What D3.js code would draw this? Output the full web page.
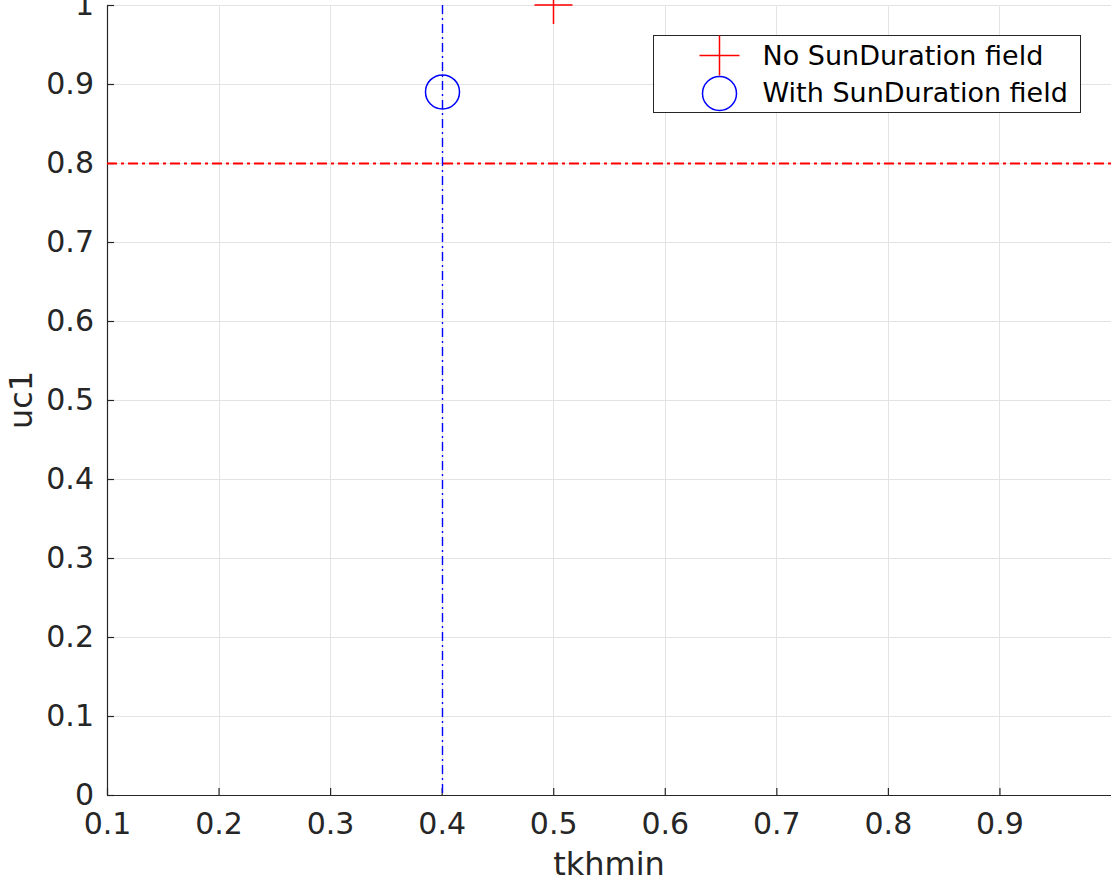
<!DOCTYPE html>
<html>
<head>
<meta charset="utf-8">
<script src="https://cdn.jsdelivr.net/npm/d3@7"></script>
<style>
  body { margin: 0; background: #fff; }
  svg { display: block; font-family: "DejaVu Sans", sans-serif; }
</style>
</head>
<body>
<div id="chart"></div>
<script>
// data
var xTicks = [0.1, 0.2, 0.3, 0.4, 0.5, 0.6, 0.7, 0.8, 0.9];
var yTicks = [0, 0.1, 0.2, 0.3, 0.4, 0.5, 0.6, 0.7, 0.8, 0.9, 1];
var noSunX = [0.5];
var noSunY = [1.0];
var withSunX = [0.4];
var withSunY = [0.89];
var refX = 0.4;   // blue vertical dash-dot
var refY = 0.8;   // red horizontal dash-dot
var seriesNames = ["No SunDuration field", "With SunDuration field"];

var W = 1111, H = 882;
var margin = {top: 5, right: 0, bottom: 87, left: 107};
var width = W - margin.left - margin.right;
var height = H - margin.top - margin.bottom;

var svg = d3.select("#chart").append("svg")
  .attr("width", W).attr("height", H);

var g = svg.append("g")
  .attr("transform", "translate(" + margin.left + "," + margin.top + ")");

var x = d3.scaleLinear().domain([0.1, 1.0]).range([0, width]);
var y = d3.scaleLinear().domain([0, 1]).range([height, 0]);
var px = v => Math.round(x(v)) + 0.5;
var py = v => Math.round(y(v)) + 0.5;

// grid
g.append("g").selectAll("line").data(xTicks.slice(1)).enter().append("line")
  .attr("x1", d => px(d)).attr("x2", d => px(d))
  .attr("y1", 0).attr("y2", height)
  .attr("stroke", "#e3e3e3").attr("stroke-width", 1);
g.append("g").selectAll("line").data(yTicks.slice(1)).enter().append("line")
  .attr("x1", 0).attr("x2", width)
  .attr("y1", d => py(d)).attr("y2", d => py(d))
  .attr("stroke", "#e3e3e3").attr("stroke-width", 1);

// axes, ticks pointing inward like matlab
var xAxis = g.append("g")
  .attr("transform", "translate(0," + height + ")")
  .call(d3.axisBottom(x).tickValues(xTicks).tickSizeInner(-7).tickSizeOuter(0)
    .tickFormat(d3.format("")));
var yAxis = g.append("g")
  .call(d3.axisLeft(y).tickValues(yTicks).tickSizeInner(-7).tickSizeOuter(0)
    .tickFormat(d3.format("")));

[xAxis, yAxis].forEach(a => {
  a.attr("font-size", null).attr("font-family", null);
  a.select(".domain").attr("stroke", "#262626").attr("stroke-width", 1.2);
  a.selectAll(".tick line").attr("stroke", "#262626").attr("stroke-width", 1.2);
  a.selectAll(".tick text").attr("fill", "#262626")
    .attr("font-size", 30).attr("font-family", "DejaVu Sans, sans-serif");
});
xAxis.selectAll(".tick text").attr("dy", "0.71em").attr("y", 18);
yAxis.selectAll(".tick text").attr("x", -13);

// reference lines
g.append("line")
  .attr("x1", 0).attr("x2", width)
  .attr("y1", py(refY)).attr("y2", py(refY))
  .attr("stroke", "#ff0000").attr("stroke-width", 2.2)
  .attr("stroke-dasharray", "10,4,3,4");
g.append("line")
  .attr("x1", px(refX)).attr("x2", px(refX))
  .attr("y1", 0).attr("y2", height)
  .attr("stroke", "#0000ff").attr("stroke-width", 1.4)
  .attr("stroke-dasharray", "9,4,2,4");

// markers
function plus(sel, cx, cy, r) {
  sel.append("path")
    .attr("d", "M" + (cx - r) + "," + cy + "H" + (cx + r) + "M" + cx + "," + (cy - r) + "V" + (cy + r))
    .attr("stroke", "#ff0000").attr("stroke-width", 1.5).attr("fill", "none");
}
noSunX.forEach((d, i) => plus(g, px(d), y(noSunY[i]), 19));
g.selectAll(".circ").data(withSunX).enter().append("circle")
  .attr("cx", d => px(d)).attr("cy", (d, i) => y(withSunY[i])).attr("r", 17)
  .attr("fill", "none").attr("stroke", "#0000ff").attr("stroke-width", 1.5);

// axis labels
svg.append("text")
  .attr("x", 609).attr("y", 875)
  .attr("text-anchor", "middle").attr("fill", "#262626")
  .attr("font-size", 32).text("tkhmin");
svg.append("text")
  .attr("transform", "translate(32," + (margin.top + y(0.5)) + ") rotate(-90)")
  .attr("text-anchor", "middle").attr("fill", "#262626")
  .attr("font-size", 32).text("uc1");

// legend
var leg = svg.append("g").attr("transform", "translate(653.5,35.5)");
leg.append("rect").attr("width", 427).attr("height", 77)
  .attr("fill", "#fff").attr("stroke", "#262626").attr("stroke-width", 1);
plus(leg, 66, 20, 20);
leg.append("circle").attr("cx", 66).attr("cy", 58).attr("r", 17)
  .attr("fill", "none").attr("stroke", "#0000ff").attr("stroke-width", 1.5);
leg.selectAll(".lt").data(seriesNames).enter().append("text")
  .attr("x", 109).attr("y", (d, i) => 29 + i * 37)
  .attr("fill", "#000").attr("font-size", 27).text(d => d);
</script>
</body>
</html>
